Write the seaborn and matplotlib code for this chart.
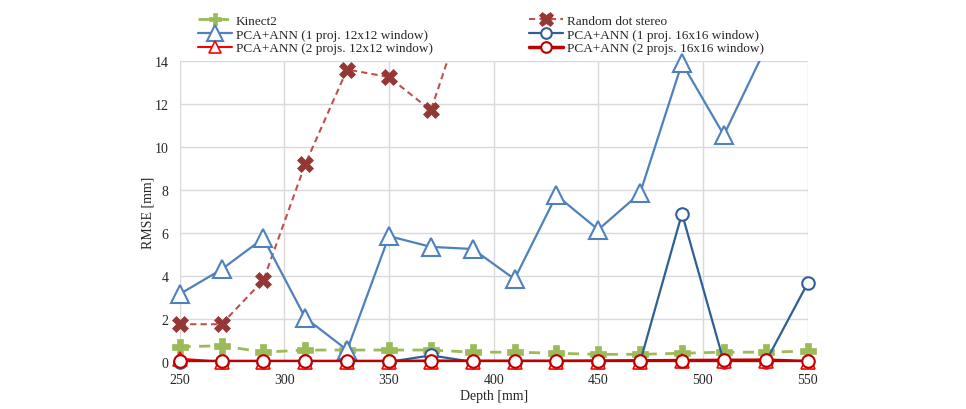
import numpy as np
import pandas as pd
import matplotlib.pyplot as plt
from matplotlib.lines import Line2D
import seaborn as sns

# depth values (mm)
depth = [250, 270, 290, 310, 330, 350, 370, 390, 410, 430, 450, 470, 490, 510, 530, 550]

kinect2 = [0.70, 0.75, 0.45, 0.55, 0.55, 0.55, 0.55, 0.45, 0.45, 0.40, 0.35, 0.35, 0.40, 0.45, 0.45, 0.50]
random_dot = [1.75, 1.75, 3.8, 9.2, 13.6, 13.25, 11.7, 17.5, 20.0, 22.0, 24.0, 25.0, 26.0, 27.0, 28.0, 29.0]
pca_1p_12 = [3.15, 4.3, 5.75, 2.05, 0.55, 5.85, 5.35, 5.25, 3.85, 7.75, 6.15, 7.85, 13.9, 10.55, 14.6, 16.0]
pca_1p_16 = [0.0, 0.0, 0.0, 0.0, 0.0, 0.0, 0.3, 0.0, 0.0, 0.0, 0.0, 0.0, 6.9, 0.0, 0.0, 3.65]
pca_2p_12 = [0.15, 0.0, 0.0, 0.0, 0.0, 0.0, 0.0, 0.0, 0.0, 0.0, 0.0, 0.0, 0.05, 0.05, 0.05, 0.0]
pca_2p_16 = [0.02, 0.02, 0.02, 0.02, 0.02, 0.02, 0.03, 0.03, 0.03, 0.03, 0.04, 0.05, 0.06, 0.07, 0.08, 0.02]

YMAX = 14

sns.set_style('white')
plt.rcParams['font.family'] = ['Liberation Serif', 'DejaVu Serif']

fig = plt.figure(figsize=(9.66, 4.1), dpi=100)
ax = fig.add_axes([0.186, 0.115, 0.650, 0.734])

handles = []


def draw(values, label, color, ls, lw, marker, ms, mfc, mec, mew, z):
    # line is clipped to the plot area, markers are not (like Excel)
    sns.lineplot(x=depth, y=values, ax=ax, color=color, linestyle=ls, lw=lw, zorder=z)
    xs = [d for d, v in zip(depth, values) if v <= YMAX]
    ys = [v for v in values if v <= YMAX]
    ax.plot(xs, ys, ls='none', marker=marker, ms=ms, mfc=mfc, mec=mec, mew=mew,
            clip_on=False, zorder=z + 0.5)
    handles.append(Line2D([], [], color=color, ls=ls, lw=lw, marker=marker, ms=ms * 0.85,
                          mfc=mfc, mec=mec, mew=mew, label=label))


draw(kinect2, 'Kinect2', '#9BBB59', (0, (4, 3)), 2, 'P', 11, '#9BBB59', '#9BBB59', 0.5, 3)
draw(random_dot, 'Random dot stereo', '#C0504D', (0, (3, 2)), 1.5, 'X', 12, '#953735', '#953735', 0.5, 3)
draw(pca_1p_12, 'PCA+ANN (1 proj. 12x12 window)', '#4F81BD', '-', 1.6, '^', 13, 'white', '#4F81BD', 1.5, 4)
draw(pca_1p_16, 'PCA+ANN (1 proj. 16x16 window)', '#2F5F94', '-', 1.6, 'o', 9, 'white', '#2F5F94', 1.5, 4)
draw(pca_2p_12, 'PCA+ANN (2 projs. 12x12 window)', '#FF0000', '-', 1.5, '^', 10, 'white', '#FF0000', 1.2, 5)
draw(pca_2p_16, 'PCA+ANN (2 projs. 16x16 window)', '#C00000', '-', 2.5, 'o', 9, 'white', '#C00000', 1.5, 6)

ax.set_xlim(250, 550)
ax.set_ylim(0, YMAX)
ax.set_xticks(np.arange(250, 551, 50))
ax.set_yticks(np.arange(0, 15, 2))
ax.grid(True, color='#D9D9D9', lw=1)
for s in ['top', 'right', 'left']:
    ax.spines[s].set_visible(False)
ax.spines['bottom'].set_color('#D9D9D9')
ax.tick_params(axis='both', length=0, labelsize=10)
ax.tick_params(axis='x', pad=8)
ax.tick_params(axis='y', pad=8)
ax.set_xlabel('Depth [mm]', fontsize=10, labelpad=2)
ax.set_ylabel('RMSE [mm]', fontsize=10, labelpad=0)

# legend in the order of the reference (two columns, row-wise)
order = [0, 2, 4, 1, 3, 5]
ax.legend([handles[i] for i in order], [handles[i].get_label() for i in order], ncol=2,
          frameon=False, loc='lower left', bbox_to_anchor=(0.02, 1.005), fontsize=9.5,
          handlelength=2.6, handletextpad=0.3, labelspacing=0.1, columnspacing=7.3,
          borderaxespad=0)

fig.savefig('out.png', dpi=100)
